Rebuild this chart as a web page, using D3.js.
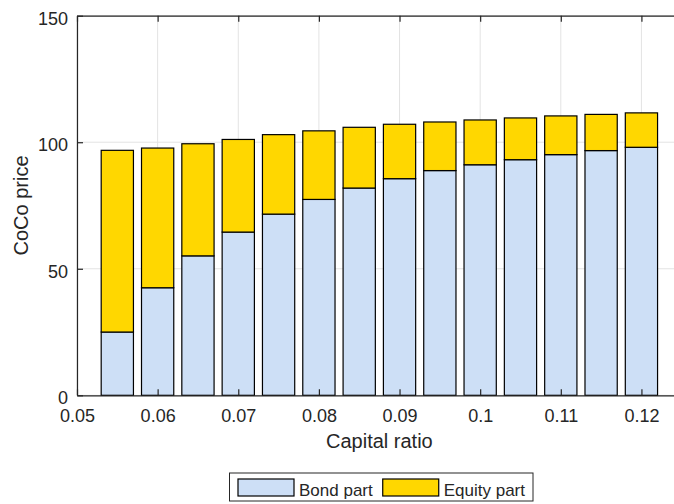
<!DOCTYPE html>
<html><head><meta charset="utf-8">
<script src="https://cdn.jsdelivr.net/npm/d3@7"></script>
<style>
html,body{margin:0;padding:0;background:#fff;}
text{font-family:"Liberation Sans",Arial,Helvetica,sans-serif;fill:#262626;}
</style></head>
<body>
<svg id="chart" width="674" height="504"></svg>
<script>
// ---- data ----
const capitalRatio = [0.055,0.06,0.065,0.07,0.075,0.08,0.085,0.09,0.095,0.1,0.105,0.11,0.115,0.12];
const bondPart   = [25.0,42.5,55.1,64.5,71.6,77.4,81.9,85.6,88.8,91.1,93.1,95.1,96.7,98.0];
const equityPart = [71.8,55.2,44.3,36.6,31.4,27.1,24.0,21.5,19.2,17.7,16.5,15.3,14.3,13.6];
const seriesNames = ["Bond part","Equity part"];
const seriesColors = ["#cddff6","#ffd700"];
const xTickValues = [0.05,0.06,0.07,0.08,0.09,0.1,0.11,0.12];
const xTickLabels = ["0.05","0.06","0.07","0.08","0.09","0.1","0.11","0.12"];
const yTickValues = [0,50,100,150];
const yTickLabels = ["0","50","100","150"];
const xLabel = "Capital ratio";
const yLabel = "CoCo price";

// ---- layout ----
const svg = d3.select("#chart");
const pLeft = 77, pTop = 15.7, pBottom = 395.3, pRight = 681.75;
const x = d3.scaleLinear().domain([0.05,0.125]).range([pLeft,pRight]);
const y = d3.scaleLinear().domain([0,150]).range([pBottom,pTop]);
const barW = x(0.05+0.004)-x(0.05);
const axisColor = "#262626";

svg.append("rect").attr("width",674).attr("height",504).attr("fill","#fff");

// grid
const grid = svg.append("g");
grid.selectAll(".gx").data(xTickValues).enter().append("line")
  .attr("x1",d=>x(d)).attr("x2",d=>x(d)).attr("y1",pTop).attr("y2",pBottom)
  .attr("stroke","#e3e3e3").attr("stroke-width",1);
grid.selectAll(".gy").data(yTickValues).enter().append("line")
  .attr("x1",pLeft).attr("x2",674).attr("y1",d=>y(d)).attr("y2",d=>y(d))
  .attr("stroke","#e3e3e3").attr("stroke-width",1);

// stacked bars
const rows = capitalRatio.map((c,i)=>({c, bond:bondPart[i], equity:equityPart[i]}));
const stack = d3.stack().keys(["bond","equity"])(rows);
svg.append("g").selectAll("g").data(stack).enter().append("g")
  .attr("fill",(d,i)=>seriesColors[i])
  .selectAll("rect").data(d=>d).enter().append("rect")
  .attr("x",d=>x(d.data.c)-barW/2)
  .attr("width",barW)
  .attr("y",d=>y(d[1]))
  .attr("height",d=>y(d[0])-y(d[1]))
  .attr("stroke","#000").attr("stroke-width",1.2);

// axes
const xAxis = d3.axisBottom(x).tickValues(xTickValues)
  .tickFormat((d,i)=>xTickLabels[i]).tickSizeInner(-6).tickSizeOuter(0).tickPadding(14);
const gx = svg.append("g").attr("transform",`translate(0,${pBottom})`).call(xAxis);
const xTop = d3.axisTop(x).tickValues(xTickValues).tickFormat("").tickSizeInner(-6).tickSizeOuter(0);
const gxt = svg.append("g").attr("transform",`translate(0,${pTop})`).call(xTop);
const yAxis = d3.axisLeft(y).tickValues(yTickValues)
  .tickFormat((d,i)=>yTickLabels[i]).tickSizeInner(-6).tickSizeOuter(0).tickPadding(9);
const gy = svg.append("g").attr("transform",`translate(${pLeft},0)`).call(yAxis);

[gx,gxt,gy].forEach(g=>{
  g.select(".domain").attr("stroke",axisColor).attr("stroke-width",1.2);
  g.selectAll(".tick line").attr("stroke",axisColor).attr("stroke-width",1.2);
  g.selectAll(".tick text").attr("font-size",18).attr("fill",axisColor)
    .style("font-family","'Liberation Sans',Arial,sans-serif");
});
gy.selectAll(".tick text").attr("dy","0.47em");

// axis labels
svg.append("text").attr("x",(pLeft+pRight)/2).attr("y",448)
  .attr("text-anchor","middle").attr("font-size",20).text(xLabel);
svg.append("text").attr("transform",`translate(28,${(pTop+pBottom)/2}) rotate(-90)`)
  .attr("text-anchor","middle").attr("font-size",20).text(yLabel);

// legend
const leg = svg.append("g");
const legBox = leg.append("rect").attr("fill","#fff").attr("stroke",axisColor).attr("stroke-width",1);
let lx = 238;
seriesNames.forEach((name,i)=>{
  leg.append("rect").attr("x",lx).attr("y",479).attr("width",56).attr("height",17)
    .attr("fill",seriesColors[i]).attr("stroke","#000").attr("stroke-width",1.2);
  const t = leg.append("text").attr("x",lx+61).attr("y",496).attr("font-size",17).text(name);
  lx += 61 + t.node().getComputedTextLength() + 10;
});
legBox.attr("x",229.5).attr("y",473).attr("width",lx-229.5-2).attr("height",28);
</script>
</body></html>
